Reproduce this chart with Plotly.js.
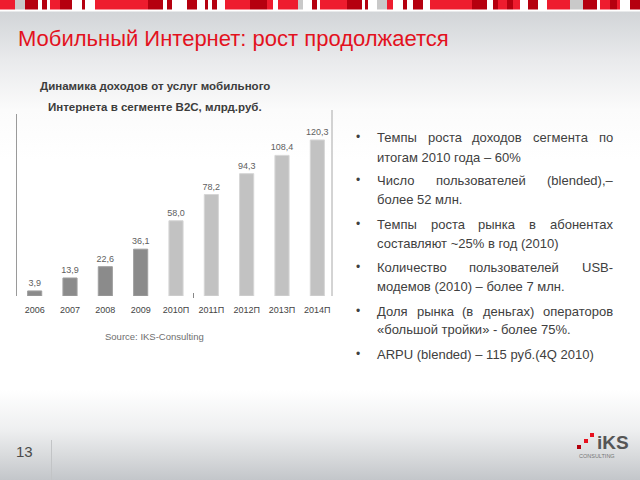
<!DOCTYPE html>
<html>
<head>
<meta charset="utf-8">
<script src="https://cdn.plot.ly/plotly-3.0.1.min.js"></script>
<style>
html,body{margin:0;padding:0;width:640px;height:480px;overflow:hidden;}
body{background:linear-gradient(to bottom,#ffffff 0px,#ffffff 11px,#d2d5d8 12px,#e9eaec 60px,#fbfbfb 110px,#ffffff 160px,#ffffff 390px,#eeeff0 430px,#d9dbdd 455px,#c3c6ca 480px);}
#chart{width:640px;height:480px;}
</style>
</head>
<body>
<div id="chart"></div>
<script>
// ---- data ----
const categories = ['2006','2007','2008','2009','2010П','2011П','2012П','2013П','2014П'];
const revenue = [3.9, 13.9, 22.6, 36.1, 58.0, 78.2, 94.3, 108.4, 120.3];
const slideTitle = 'Мобильный Интернет: рост продолжается';
const chartTitleLines = ['Динамика доходов от услуг мобильного', 'Интернета в сегменте B2C, млрд.руб.'];
const sourceText = 'Source: IKS-Consulting';
const pageNumber = '13';
// bullet paragraphs: each is a list of lines; all but the last line are justified
const bullets = [
  ['Темпы роста  доходов  сегмента по', 'итогам 2010 года – 60%'],
  ['Число пользователей (blended),–', 'более 52 млн.'],
  ['Темпы роста рынка в абонентах', 'составляют ~25% в год (2010)'],
  ['Количество пользователей USB-', 'модемов (2010) – более 7 млн.'],
  ['Доля рынка (в деньгах) операторов', '«большой тройки» - более 75%.'],
  ['ARPU (blended) – 115 руб.(4Q 2010)']
];

// ---- geometry helpers ----
const W = 640, H = 480;
const M = {l:17, r:305, t:114, b:184};
const PW = W - M.l - M.r, PH = H - M.t - M.b;
const px = x => (x - M.l) / PW;
const py = y => (H - M.b - y) / PH;

const sans = '"Liberation Sans", Arial, sans-serif';

const annotations = [];
const shapes = [];

// banner stripes (decorative)
const RED = '#ee1c2e', DRK = '#b5000f', WHT = '#ffffff', GRY = '#c9c9c9';
const stripes = [
 [0,15,RED],[15,25,GRY],[25,38,DRK],[38,42,WHT],[42,47,DRK],[47,50,WHT],[50,60,RED],[60,72,DRK],[72,82,WHT],[82,85,DRK],[85,95,WHT],
 [95,148,RED],[148,163,DRK],[163,167,WHT],[167,172,DRK],[172,187,WHT],[187,197,DRK],[197,205,WHT],[205,208,DRK],[208,212,WHT],[212,217,DRK],[217,225,WHT],
 [225,250,RED],[250,267,DRK],[267,273,RED],[273,278,WHT],[278,298,RED],[298,303,GRY],[303,312,WHT],[312,317,DRK],[317,320,WHT],
 [320,347,RED],[347,362,DRK],[362,365,WHT],[365,368,DRK],[368,377,WHT],[377,387,GRY],[387,393,RED],[393,403,WHT],[403,407,DRK],[407,413,WHT],[413,423,DRK],[423,430,WHT],
 [430,472,RED],[472,487,DRK],[487,493,WHT],[493,498,DRK],[498,507,RED],[507,513,DRK],[513,520,RED],[520,528,WHT],[528,538,DRK],[538,547,WHT],
 [547,570,RED],[570,583,GRY],[583,597,DRK],[597,600,WHT],[600,610,RED],[610,617,DRK],[617,620,RED],[620,630,WHT],[630,640,DRK]
];
stripes.forEach(s => shapes.push({type:'rect', xref:'paper', yref:'paper', x0:px(s[0]), x1:px(s[1]), y0:py(9.5), y1:py(0), fillcolor:s[2], line:{width:0}, layer:'below'}));

// separator lines
shapes.push({type:'line', xref:'paper', yref:'paper', x0:px(332), x1:px(332), y0:py(110), y1:py(296), line:{color:'#a8a8a8', width:1}});
shapes.push({type:'line', xref:'paper', yref:'paper', x0:px(51.5), x1:px(51.5), y0:py(440), y1:py(480), line:{color:'#c2c4c6', width:1}});
shapes.push({type:'line', xref:'paper', yref:'paper', x0:px(193.5), x1:px(193.5), y0:py(293), y1:py(298), line:{color:'#888', width:1}});

// logo squares
[[590,433,594,437,'#e8101e'],[584,439,588,443,'#e8101e'],[577,445,581,449,'#b3000c']].forEach(q =>
  shapes.push({type:'rect', xref:'paper', yref:'paper', x0:px(q[0]), x1:px(q[2]), y0:py(q[3]), y1:py(q[1]), fillcolor:q[4], line:{width:0}}));
annotations.push({xref:'paper', yref:'paper', x:px(595), y:py(442), xanchor:'left', yanchor:'middle', showarrow:false, text:'<b>iKS</b>', font:{family:sans, size:19, color:'#555'}});
annotations.push({xref:'paper', yref:'paper', x:px(597), y:py(456), xanchor:'center', yanchor:'middle', showarrow:false, text:'CONSULTING', font:{family:sans, size:5.5, color:'#777'}});

// chart title
chartTitleLines.forEach((t,i) => annotations.push({xref:'paper', yref:'paper', x:px(155), y:py(86 + i*21), xanchor:'center', yanchor:'middle', showarrow:false, text:'<b>'+t+'</b>', font:{family:sans, size:11.5, color:'#3c3c3c'}}));

// source
annotations.push({xref:'paper', yref:'paper', x:px(154), y:py(336), xanchor:'center', yanchor:'middle', showarrow:false, text:sourceText, font:{family:sans, size:9.5, color:'#6e6e6e'}});

// page number
annotations.push({xref:'paper', yref:'paper', x:px(24), y:py(451), xanchor:'center', yanchor:'middle', showarrow:false, text:pageNumber, font:{family:sans, size:15, color:'#4a4a4a'}});

// bullets (justified)
const BFONT = 13, BCOL = '#404040';
const canvas = document.createElement('canvas');
const ctx = canvas.getContext('2d');
ctx.font = BFONT + 'px "Liberation Sans"';
const lineCenters = [[137,157.5],[180,199],[224,243],[267,286],[311,329],[354]];
const LX = 375, RX = 611;
bullets.forEach((para, pi) => {
  annotations.push({xref:'paper', yref:'paper', x:px(358), y:py(lineCenters[pi][0]), xanchor:'center', yanchor:'middle', showarrow:false, text:'•', font:{family:sans, size:12, color:BCOL}});
  para.forEach((line, li) => {
    const yc = py(lineCenters[pi][li]);
    const justify = li < para.length - 1;
    if (!justify) {
      annotations.push({xref:'paper', yref:'paper', x:px(LX), y:yc, xanchor:'left', yanchor:'middle', showarrow:false, text:line, font:{family:sans, size:BFONT, color:BCOL}});
    } else {
      const words = line.split(/\s+/);
      const widths = words.map(w => ctx.measureText(w).width);
      const total = widths.reduce((a,b)=>a+b,0);
      const gap = (RX - LX - total) / (words.length - 1);
      let x = LX;
      words.forEach((w, wi) => {
        annotations.push({xref:'paper', yref:'paper', x:px(x), y:yc, xanchor:'left', yanchor:'middle', showarrow:false, text:w, font:{family:sans, size:BFONT, color:BCOL}});
        x += widths[wi] + gap;
      });
    }
  });
});

const barColors = categories.map(c => c.indexOf('П') >= 0 ? '#c2c2c2' : '#8b8b8b');
const barLines = categories.map(c => c.indexOf('П') >= 0 ? '#d6d6d6' : '#a0a0a0');

const trace = {
  type:'bar', x:categories, y:revenue,
  marker:{color:barColors, line:{color:barLines, width:1}},
  width:0.4,
  text:revenue, texttemplate:'%{y:.1f}', textposition:'outside', cliponaxis:false, constraintext:'none',
  textfont:{family:sans, size:9, color:'#606060'},
  hoverinfo:'none'
};

const layout = {
  width:W, height:H, margin:M,
  paper_bgcolor:'rgba(0,0,0,0)', plot_bgcolor:'rgba(0,0,0,0)',
  separators:', ',
  showlegend:false,
  title:{text:slideTitle, x:18/640, xanchor:'left', xref:'container', y:1-38/480, yanchor:'middle', yref:'container', font:{family:sans, size:22, color:'#e3121e'}},
  xaxis:{type:'category', showline:false, showgrid:false, zeroline:false, ticks:'outside', ticklen:5, tickcolor:'rgba(0,0,0,0)', tickfont:{family:sans, size:9, color:'#444'}},
  yaxis:{range:[0,140.3], showline:true, linecolor:'#9a9a9a', linewidth:1, showgrid:false, zeroline:false, showticklabels:false, ticks:''},
  annotations:annotations, shapes:shapes
};

Plotly.newPlot('chart', [trace], layout, {displayModeBar:false, staticPlot:true});
</script>
</body>
</html>
